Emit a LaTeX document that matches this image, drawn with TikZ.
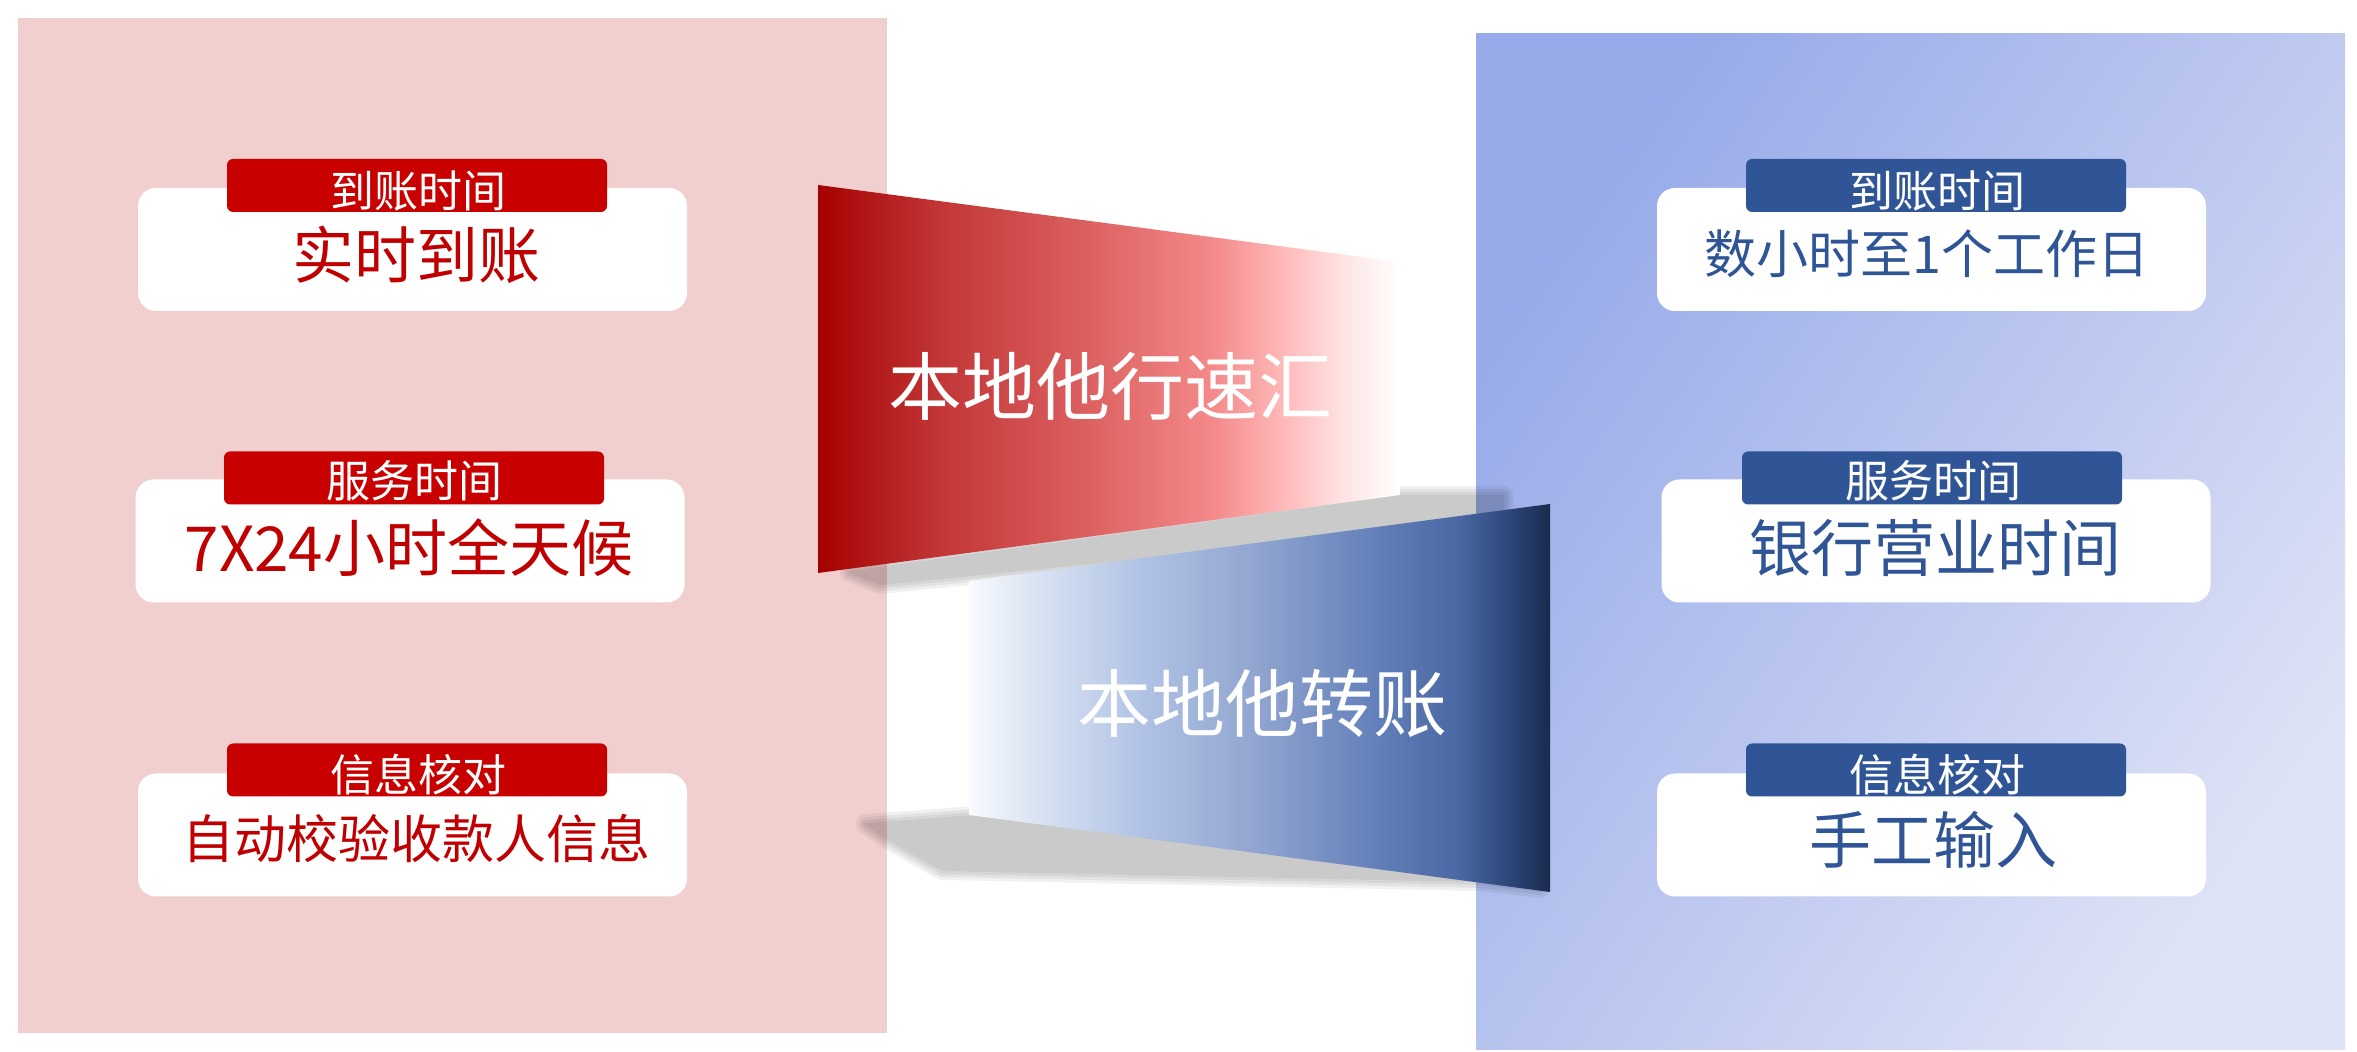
\documentclass[tikz,border=0pt]{standalone}
\usepackage{fontspec}
\setmainfont{Noto Sans CJK SC}
\definecolor{pinkbg}{HTML}{F2CFCF}
\definecolor{tabred}{HTML}{C80000}
\definecolor{txtred}{HTML}{C00000}
\definecolor{tabblue}{HTML}{2F5597}
\definecolor{txtblue}{HTML}{2F5597}
\definecolor{bluetl}{HTML}{97AAE9}
\definecolor{bluebr}{HTML}{DFE3F6}
\definecolor{rfa}{HTML}{A50000}
\definecolor{rfb}{HTML}{C13434}
\definecolor{rfc}{HTML}{DC6060}
\definecolor{rfd}{HTML}{F48A8A}
\definecolor{rfe}{HTML}{FFBDBD}
\definecolor{rff}{HTML}{FFE2E2}
\definecolor{bfa}{HTML}{F8FAFE}
\definecolor{bfb}{HTML}{D8E2F2}
\definecolor{bfc}{HTML}{B0C2E4}
\definecolor{bfd}{HTML}{8FA4CF}
\definecolor{bfe}{HTML}{6480BA}
\definecolor{bff}{HTML}{4A68A4}
\definecolor{bfg}{HTML}{2F4A7E}
\definecolor{bfh}{HTML}{1A2A4D}
\pgfdeclarehorizontalshading{redfade}{100bp}{color(0bp)=(rfa); color(25bp)=(rfa); color(35bp)=(rfb); color(48bp)=(rfc); color(59bp)=(rfd); color(65.5bp)=(rfe); color(70bp)=(rff); color(75bp)=(white); color(100bp)=(white)}
\pgfdeclarehorizontalshading{bluefade}{100bp}{color(0bp)=(bfa); color(25bp)=(bfa); color(31bp)=(bfb); color(40bp)=(bfc); color(50bp)=(bfd); color(60bp)=(bfe); color(67bp)=(bff); color(71bp)=(bfg); color(75bp)=(bfh); color(100bp)=(bfh)}
\begin{document}
\begin{tikzpicture}[x=0.5pt,y=-0.5pt,
  card/.style={fill=white, rounded corners=9pt, minimum width=274.5pt, minimum height=61.5pt, inner sep=0pt},
  redtab/.style={fill=tabred, rounded corners=3pt, minimum width=190pt, minimum height=26.5pt, inner sep=0pt},
  bluetab/.style={redtab, fill=tabblue},
  tabtext/.style={text=white, font=\fontsize{22pt}{22pt}\selectfont, inner sep=0pt},
  redval/.style={text=txtred, font=\fontsize{31pt}{31pt}\selectfont, inner sep=0pt},
  blueval/.style={text=txtblue, font=\fontsize{31pt}{31pt}\selectfont, inner sep=0pt},
  smallval/.style={font=\fontsize{26pt}{26pt}\selectfont},
  bigtext/.style={text=white, font=\fontsize{37pt}{37pt}\selectfont, inner sep=0pt},
  shadowlayer/.style={fill=black, draw=black, line join=round}
]
\useasboundingbox (0,0) rectangle (2357,1052);
\fill[white] (0,0) rectangle (2357,1052);
% panels
\fill[pinkbg] (18,18) rectangle (887,1033);
\shade[top color=bluetl, bottom color=bluebr, shading angle=55] (1476,34) rectangle (2345,1049);
% left cards
\node[card] (lc1) at (412.5,249.5) {};
\node[card] (lc2) at (410,541) {};
\node[card] (lc3) at (412.5,835) {};
\node[redtab] (lt1) at (417,185.5) {};
\node[redtab] (lt2) at (414,478) {};
\node[redtab] (lt3) at (417,770) {};
% right cards
\node[card] (rc1) at (1931.5,249.5) {};
\node[card] (rc2) at (1936,541) {};
\node[card] (rc3) at (1931.5,835) {};
\node[bluetab] (rt1) at (1936,185.5) {};
\node[bluetab] (rt2) at (1932,478) {};
\node[bluetab] (rt3) at (1936,770) {};
% shadows
\foreach \w in {1,4,7,10}{
  \begin{scope}[transparency group, opacity=0.055]
    \path[shadowlayer, line width=\w pt] (850,572) -- (1400,496) -- (1503,496) -- (1503,522) -- (880,584) -- cycle;
  \end{scope}
  \begin{scope}[transparency group, opacity=0.055]
    \path[shadowlayer, line width=\w pt] (866,824) -- (975,816) -- (1540,888) -- (1480,881) -- (942,870) -- (886,838) -- cycle;
  \end{scope}
}
% banners
\shade[shading=redfade] (818,185) -- (1400,262) -- (1400,495) -- (818,573) -- cycle;
\shade[shading=bluefade] (969,581) -- (1550,504) -- (1550,892) -- (969,815) -- cycle;
\node[bigtext] (redtitle) at (1110,386) {本地他行速汇};
\node[bigtext] (bluetitle) at (1262,704) {本地他转账};
% left texts
\node[tabtext] (ltx1) at (418,191) {到账时间};
\node[tabtext] (ltx2) at (414,481) {服务时间};
\node[tabtext] (ltx3) at (418,775) {信息核对};
\node[redval] (lv1) at (416,255) {实时到账};
\node[redval] (lv2) at (409,548) {7X24小时全天候};
\node[redval, smallval] (lv3) at (416,839) {自动校验收款人信息};
% right texts
\node[tabtext] (rtx1) at (1937,191) {到账时间};
\node[tabtext] (rtx2) at (1933,481) {服务时间};
\node[tabtext] (rtx3) at (1937,775) {信息核对};
\node[blueval, smallval] (rv1) at (1927,254) {数小时至1个工作日};
\node[blueval] (rv2) at (1935,548) {银行营业时间};
\node[blueval] (rv3) at (1933,840) {手工输入};
\end{tikzpicture}
\end{document}
